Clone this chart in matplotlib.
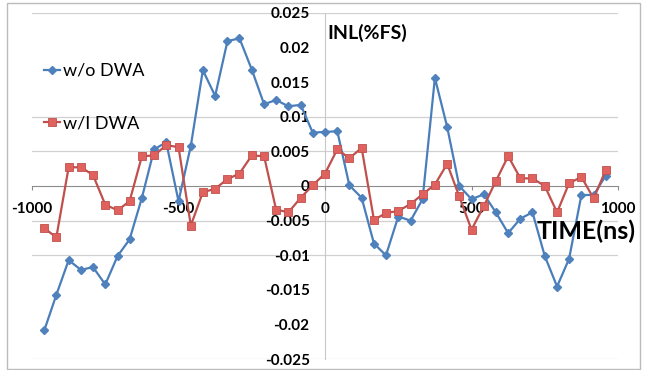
import matplotlib
matplotlib.use("Agg")
import matplotlib.pyplot as plt
from matplotlib.patches import Rectangle

plt.rcParams['font.family'] = ['Lato', 'DejaVu Sans']
plt.rcParams['axes.unicode_minus'] = False

# time axis (ns)
time_ns = [-958, -917, -875, -833, -792, -750, -708, -667, -625, -583, -542, -500,
           -458, -417, -375, -333, -292, -250, -208, -167, -125, -83, -42, 0,
           42, 83, 125, 167, 208, 250, 292, 333, 375, 417, 458, 500,
           542, 583, 625, 667, 708, 750, 792, 833, 875, 917, 958]

# INL without DWA
inl_wo_dwa = [-0.0208, -0.0157, -0.0107, -0.0121, -0.0117, -0.0142, -0.0101, -0.0077,
              -0.0017, 0.0053, 0.0063, -0.0022, 0.0058, 0.0167, 0.0130, 0.0209,
              0.0213, 0.0168, 0.0118, 0.0124, 0.0115, 0.0117, 0.0077, 0.0078,
              0.0079, 0.0001, -0.0017, -0.0083, -0.0100, -0.0044, -0.0050, -0.0019,
              0.0156, 0.0085, 0.0000, -0.0019, -0.0012, -0.0038, -0.0068, -0.0047,
              -0.0038, -0.0101, -0.0145, -0.0105, -0.0013, -0.0013, 0.0015]

# INL with DWA
inl_w_dwa = [-0.0061, -0.0074, 0.0027, 0.0027, 0.0016, -0.0027, -0.0035, -0.0022,
             0.0043, 0.0044, 0.0059, 0.0056, -0.0057, -0.0009, -0.0004, 0.0010,
             0.0018, 0.0044, 0.0043, -0.0034, -0.0038, -0.0017, 0.0001, 0.0018,
             0.0053, 0.0040, 0.0055, -0.0049, -0.0039, -0.0036, -0.0026, -0.0012,
             0.0002, 0.0032, -0.0015, -0.0063, -0.0029, 0.0007, 0.0043, 0.0011,
             0.0011, 0.0000, -0.0038, 0.0004, 0.0013, -0.0018, 0.0023]

x_ticks = [-1000, -500, 0, 500, 1000]
y_ticks = [-0.025, -0.02, -0.015, -0.01, -0.005, 0, 0.005, 0.01, 0.015, 0.02, 0.025]
y_tick_labels = ['-0.025', '-0.02', '-0.015', '-0.01', '-0.005', '0',
                 '0.005', '0.01', '0.015', '0.02', '0.025']
grid_levels = [-0.025, -0.01, -0.005, 0.005, 0.01, 0.025]

blue = '#4A7EBB'
red = '#C0504D'

fig = plt.figure(figsize=(6.47, 3.70), dpi=100)
# light chart-area frame
fig.patches.append(Rectangle((0.011, 0.003), 0.978, 0.99, transform=fig.transFigure,
                             fill=False, edgecolor='#BBBBBB', linewidth=1.0))

ax = fig.add_axes([0.0495, 0.0289, 0.9057, 0.9368])
ax.set_xlim(-1000, 1000)
ax.set_ylim(-0.025, 0.025)

for lv in grid_levels:
    ax.axhline(lv, color='#D0D0D0', linewidth=0.9, zorder=0)

ax.plot(time_ns, inl_wo_dwa, color=blue, linewidth=1.6, marker='D', markersize=3.8,
        markerfacecolor='#4F81BD', markeredgecolor='#4F81BD', label='w/o DWA', zorder=3)
ax.plot(time_ns, inl_w_dwa, color=red, linewidth=1.6, marker='s', markersize=5.2,
        markerfacecolor='#E0625E', markeredgecolor=red, markeredgewidth=0.6,
        label='w/I DWA', zorder=3)

# axes crossing at the origin
for side in ['top', 'right']:
    ax.spines[side].set_visible(False)
ax.spines['left'].set_position(('data', 0))
ax.spines['bottom'].set_position(('data', 0))
ax.spines['left'].set_color('#C8C8C8')
ax.spines['bottom'].set_color('#8C8C8C')
ax.spines['left'].set_zorder(1)
ax.spines['bottom'].set_zorder(1)

ax.set_xticks(x_ticks)
ax.set_xticklabels([str(t) for t in x_ticks])
ax.set_yticks(y_ticks)
ax.set_yticklabels(y_tick_labels)
ax.tick_params(axis='x', direction='out', length=3, color='#8C8C8C', pad=8.5,
               labelsize=11)
ax.tick_params(axis='y', length=0, pad=11, labelsize=11)
for lab in ax.get_xticklabels() + ax.get_yticklabels():
    lab.set_fontweight('bold')

fig.text(327 / 647, 1 - 33 / 370, 'INL(%FS)', fontsize=14, fontweight='bold',
         ha='left', va='center')
fig.text(636 / 647, 1 - 231 / 370, 'TIME(ns)', fontsize=18, fontweight='bold',
         ha='right', va='center')

ax.legend(loc='upper left', bbox_to_anchor=(44 / 647, 1 - 63 / 370),
          bbox_transform=fig.transFigure, frameon=False, fontsize=13,
          handlelength=0.9, handletextpad=0.15, labelspacing=2.0,
          borderpad=0, borderaxespad=0)

fig.savefig('out.png', dpi=100)
